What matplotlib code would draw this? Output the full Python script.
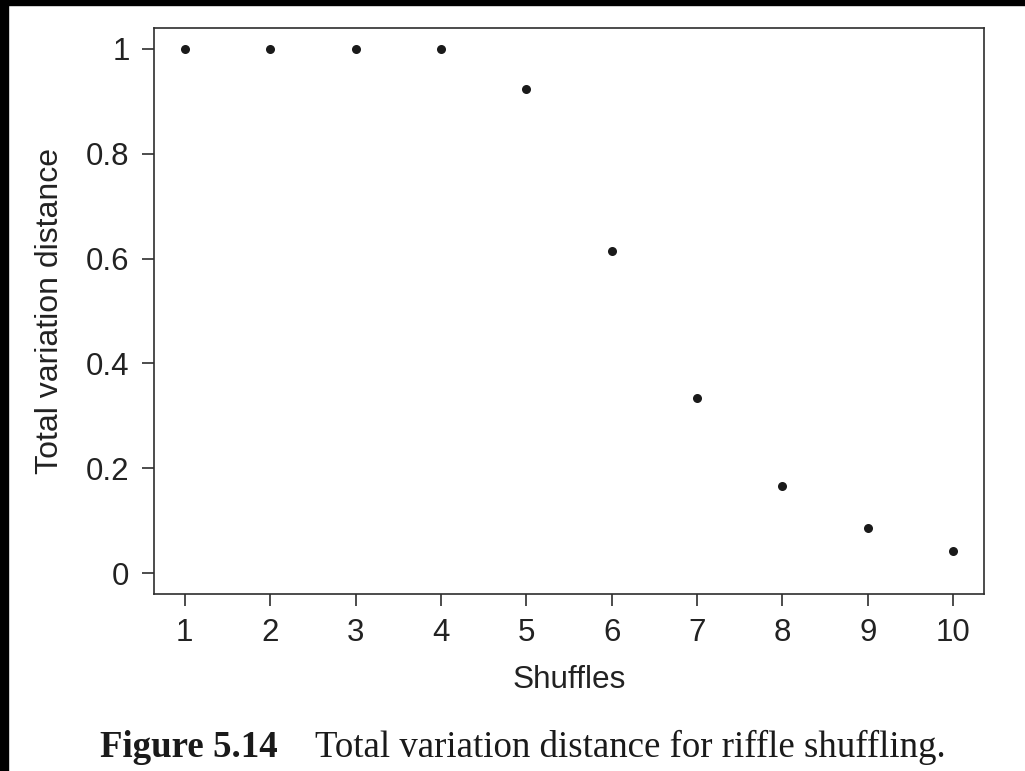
import matplotlib.pyplot as plt
from matplotlib.patches import Rectangle

# Données : distance en variation totale après k battages
shuffles = [1, 2, 3, 4, 5, 6, 7, 8, 9, 10]
tv_distance = [1.000, 1.000, 1.000, 1.000, 0.924, 0.614, 0.334, 0.167, 0.085, 0.043]
yticks = [0, 0.2, 0.4, 0.6, 0.8, 1]
ytick_labels = ["0", "0.2", "0.4", "0.6", "0.8", "1"]

W, H = 1025, 771
fig = plt.figure(figsize=(W / 100, H / 100), dpi=100)
fig.patch.set_facecolor("white")

ink = "#222222"
ax = fig.add_axes([154 / W, 1 - 594 / H, 830 / W, 566 / H])
ax.plot(shuffles, tv_distance, "o", color="#1a1a1a", markersize=6.5, markeredgewidth=0)

ax.set_xlim(0.64, 10.36)
ax.set_ylim(-0.04, 1.04)
ax.set_xticks(shuffles)
ax.set_yticks(yticks)
ax.set_yticklabels(ytick_labels)

for side in ax.spines.values():
    side.set_linewidth(1.2)
    side.set_color("#2e2e2e")
ax.tick_params(direction="out", length=8.6, width=1.2, color="#2e2e2e",
               labelsize=22.5, labelcolor=ink, pad=9)
for lab in ax.get_xticklabels() + ax.get_yticklabels():
    lab.set_family("Liberation Sans")

ax.set_xlabel("Shuffles", fontsize=22.7, family="Liberation Sans", color=ink)
ax.set_ylabel("Total variation distance", fontsize=23, family="Liberation Sans", color=ink)
ax.xaxis.set_label_coords(0.5, -0.125)
ax.yaxis.set_label_coords(-0.107, 0.5)

# Légende de la figure (style livre)
fig.text(100 / W, 1 - 757 / H, "Figure 5.14", fontsize=26.6, fontweight="bold",
         family="Liberation Serif", color="#1a1a1a", va="baseline", ha="left")
fig.text(315 / W, 1 - 757 / H, "Total variation distance for riffle shuffling.",
         fontsize=26.6, family="Liberation Serif", color="#1a1a1a", va="baseline", ha="left")

# Bandes noires du scan (bord gauche et haut)
fig.patches.append(Rectangle((0, 0), 8 / W, 1, transform=fig.transFigure,
                             color="black", zorder=10))
fig.patches.append(Rectangle((0, 1 - 5 / H), 1, 5 / H, transform=fig.transFigure,
                             color="black", zorder=10))

fig.savefig("out.png", dpi=100)
